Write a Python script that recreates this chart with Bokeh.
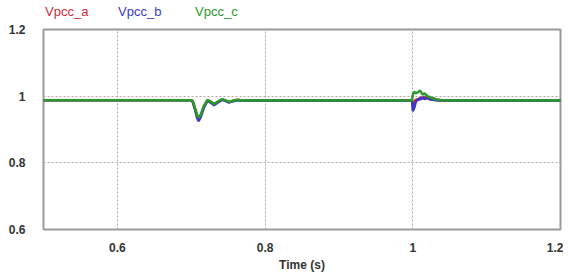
from bokeh.plotting import figure
from bokeh.models import FixedTicker, Range1d, Div
from bokeh.layouts import column
from bokeh.embed import file_html
from bokeh.resources import INLINE

# ---- data ----
t = [0.5, 0.7, 0.702, 0.705, 0.708, 0.710, 0.713, 0.717, 0.722, 0.727, 0.731,
     0.736, 0.742, 0.747, 0.751, 0.757, 0.763, 0.77, 0.78, 0.8, 0.999, 1.0,
     1.002, 1.004, 1.007, 1.01, 1.013, 1.016, 1.02, 1.024, 1.028, 1.033, 1.04,
     1.05, 1.2]
vpcc_a = [0.988, 0.988, 0.985, 0.965, 0.940, 0.930, 0.942, 0.968, 0.988, 0.982,
          0.975, 0.982, 0.990, 0.986, 0.982, 0.986, 0.989, 0.986, 0.987, 0.987,
          0.987, 0.975, 0.982, 0.990, 0.988, 0.996, 0.992, 0.998, 0.994, 0.990,
          0.993, 0.989, 0.987, 0.987, 0.987]
vpcc_b = [0.988, 0.988, 0.983, 0.960, 0.935, 0.925, 0.938, 0.965, 0.986, 0.980,
          0.973, 0.981, 0.989, 0.985, 0.981, 0.985, 0.988, 0.986, 0.987, 0.987,
          0.987, 0.955, 0.965, 0.982, 0.992, 0.990, 0.997, 0.991, 0.995, 0.990,
          0.989, 0.987, 0.987, 0.987, 0.987]
vpcc_c = [0.988, 0.988, 0.985, 0.965, 0.945, 0.935, 0.945, 0.970, 0.989, 0.983,
          0.977, 0.984, 0.991, 0.987, 0.983, 0.987, 0.989, 0.987, 0.987, 0.987,
          0.987, 1.005, 1.013, 1.008, 1.012, 1.017, 1.005, 1.008, 1.000, 0.996,
          0.993, 0.990, 0.988, 0.987, 0.987]
series_names = ["Vpcc_a", "Vpcc_b", "Vpcc_c"]
series_colors = ["#cc2a3a", "#3a3ac0", "#2a9a2a"]
x_ticks = [0.6, 0.8, 1.0, 1.2]
x_tick_labels = ["0.6", "0.8", "1", "1.2"]
y_ticks = [0.6, 0.8, 1.0, 1.2]
y_tick_labels = ["0.6", "0.8", "1", "1.2"]

FONT = "Liberation Sans"

p = figure(width=563, height=254, output_backend="svg", toolbar_location=None,
           x_range=Range1d(0.5, 1.2), y_range=Range1d(0.6, 1.2),
           min_border_left=43, min_border_right=3, min_border_top=9,
           min_border_bottom=39, background_fill_color="white",
           border_fill_color="white", margin=0)

p.outline_line_color = "#9a9a9a"
p.outline_line_width = 2

for ax in (p.xaxis[0], p.yaxis[0]):
    ax.axis_line_color = None
    ax.major_tick_line_color = None
    ax.minor_tick_line_color = None
    ax.major_label_text_font = FONT
    ax.major_label_text_font_style = "bold"
    ax.major_label_text_font_size = "12px"
    ax.major_label_text_color = "#333333"

p.xaxis.ticker = FixedTicker(ticks=x_ticks)
p.xaxis.major_label_overrides = dict(zip(x_ticks, x_tick_labels))
p.xaxis.major_label_standoff = 7
p.xaxis.axis_label = "Time (s)"
p.xaxis.axis_label_text_font = FONT
p.xaxis.axis_label_text_font_style = "bold"
p.xaxis.axis_label_text_font_size = "12px"
p.xaxis.axis_label_text_color = "#333333"
p.xaxis.axis_label_standoff = 3

p.yaxis.ticker = FixedTicker(ticks=y_ticks)
p.yaxis.major_label_overrides = dict(zip(y_ticks, y_tick_labels))
p.yaxis.major_label_standoff = 12

p.xgrid.ticker = FixedTicker(ticks=x_ticks)
p.ygrid.ticker = FixedTicker(ticks=y_ticks)
p.xgrid.grid_line_color = "#a8a8a8"
p.ygrid.grid_line_color = "#b8a4a0"
p.xgrid.grid_line_dash = "2 2"
p.ygrid.grid_line_dash = "2 2"
p.xgrid.grid_line_width = 1
p.ygrid.grid_line_width = 1

for vals, col in zip([vpcc_a, vpcc_b, vpcc_c], series_colors):
    p.line(t, vals, line_color=col, line_width=2.5)

# series names above the frame, as coloured real text
label_widths = [73, 77, 60]
spans = "".join(
    f'<span style="display:inline-block;width:{w}px;color:{c}">{n}</span>'
    for n, c, w in zip(series_names, series_colors, label_widths))
header = Div(text=f'<div style="padding-left:45px;padding-top:4px;'
                  f'font-family:{FONT};font-size:13px;line-height:16px;'
                  f'white-space:nowrap">{spans}</div>',
             width=563, height=20, margin=0)

layout = column(header, p, spacing=0, margin=0)

open("out.html", "w").write(file_html(layout, INLINE))
